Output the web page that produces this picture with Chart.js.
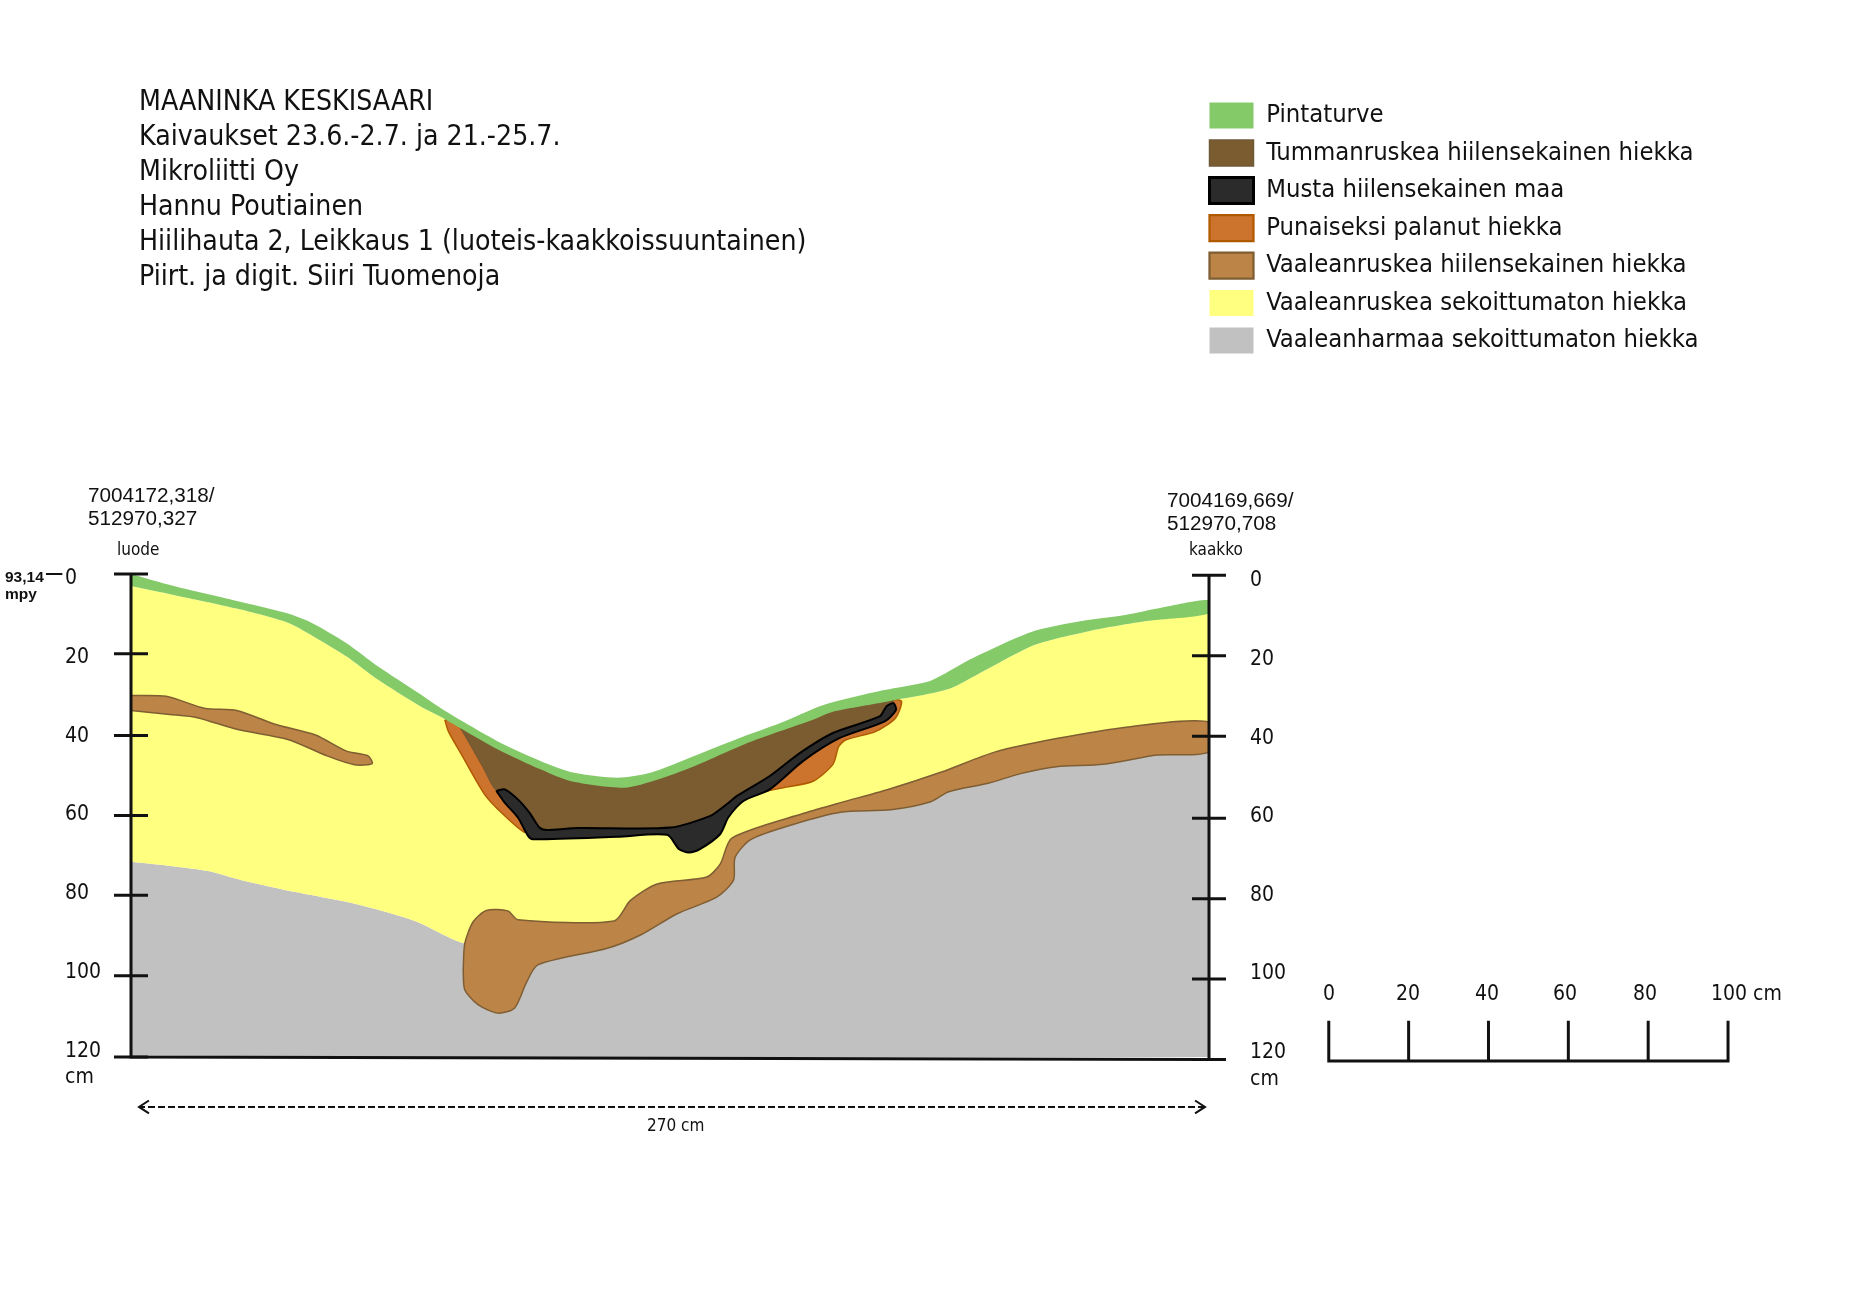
<!DOCTYPE html>
<html>
<head>
<meta charset="utf-8">
<title>Maaninka Keskisaari</title>
<script src="https://cdn.jsdelivr.net/npm/chart.js@4"></script>
<style>
html, body { margin: 0; background: #fff; }
#wrap { position: relative; width: 1856px; height: 1312px; overflow: hidden; }
canvas { position: absolute; left: 0; top: 0; }
.note { position: absolute; white-space: nowrap; line-height: 1; color: #111; transform: translateY(-50%); }
</style>
</head>
<body>
<div id="wrap"><canvas id="section" width="1856" height="1312"></canvas></div>
<script>
const titleLines = [
    'MAANINKA KESKISAARI',
    'Kaivaukset 23.6.-2.7. ja 21.-25.7.',
    'Mikroliitti Oy',
    'Hannu Poutiainen',
    'Hiilihauta 2, Leikkaus 1 (luoteis-kaakkoissuuntainen)',
    'Piirt. ja digit. Siiri Tuomenoja'
];
const depthTicks = [0, 20, 40, 60, 80, 100, 120];
const scaleBarTicks = [0, 20, 40, 60, 80];

// all outlines are [distance cm, depth cm]
const peatTop = [[0,-0.6],[10.7,2.4],[26.5,6.1],[39.3,9.2],[45.2,11.5],[54,16.6],[61.9,22.4],[72,29],[78.6,33.4],[91.9,41],[102.7,45.9],[111,48.8],[121.8,50],[130.1,48.8],[140.9,44.7],[153.4,39.8],[162.5,36.5],[173.3,32],[188.3,28.3],[200.3,25.9],[210.2,20.6],[225.5,13.8],[238.1,11.1],[249,9.6],[258,7.8],[270,5.9]];
const peatBottom = [[0,2.4],[10.7,4.6],[26.5,8],[39.3,11.5],[45.2,14.6],[54,19.9],[61.9,25.7],[72,32],[77.4,34.8],[91.9,43],[102.7,48],[110.2,50.9],[123.5,52.5],[131.8,50.5],[140.9,47.2],[153.4,41.8],[162.5,38.5],[170.8,35.6],[175.8,33.6],[189.9,31],[204.8,28],[213.8,23.4],[226.4,17],[239.9,13.6],[254.3,11.1],[270,9.2]];
const greyTop = [[0,70.9],[10.4,72],[19.3,73.2],[28.2,75.6],[41.5,78.5],[56.3,81.4],[71.1,85.6],[83.6,91.2],[90,90],[121,88],[147.6,74],[150,68],[155,64.6],[165.6,60.7],[177.7,57.5],[190,55.5],[204,51],[216.5,47],[231.8,44],[250,41],[270,40]];
const darkBrownArea = [[80.3,35.2],[91.9,41.8],[102.7,46.7],[110.2,50],[123.5,51.7],[131.8,49.6],[140.9,46.3],[153.4,41],[162.5,37.7],[170.8,34.8],[175.8,32.8],[190.5,30.3],[190.5,33.6],[186.6,36],[176.6,39.7],[167.5,44.7],[160,50.9],[151.7,55.8],[146.7,59.9],[136.8,62.4],[103.5,63.2],[100.2,59.1],[96.1,55],[91.5,53.3],[87.8,46.7],[82,36.9],[80.3,35.2]];
const blackArea = [[91.5,53.3],[93.6,52.9],[96.9,55.4],[99.8,58.7],[102.3,62.4],[104,63],[111.9,62.5],[135.1,62.4],[145.1,59.5],[149.2,56.6],[151.7,54.6],[160,49.6],[167.5,43.9],[175.8,38.9],[187.5,34.8],[189.2,32.3],[191,31.5],[191.6,33.2],[188.8,36],[177.4,40.2],[168.3,45.9],[160,52.9],[153.4,55.8],[149.6,59.9],[147.6,64],[142.6,67.7],[139.7,68.6],[137.2,67.7],[134.3,64.2],[121.8,64.7],[100.6,65.3],[99.4,64.4],[96.9,59.9],[93.6,56.2],[91.5,53.3]];
const orangeLeft = [[78.6,35.6],[79.5,38.5],[82.8,44.3],[88.6,54.2],[93.2,59.1],[98.6,63.6],[97.7,60.7],[91.5,52.5],[87.8,46.7],[82,36.9],[78.6,35.6]];
const orangeRight = [[157.5,53.7],[163.3,52.5],[170.8,50.9],[175.8,46.7],[177.3,42.2],[179.1,40.6],[186.6,38.5],[191.5,35.2],[193,31.1],[191,30.7],[189.6,34.4],[176.6,39.7],[167.5,44.7],[160,50.9],[157.5,53.7]];
const lightBrownBand = [[0,29.6],[8.8,29.8],[18.6,32.8],[26.5,33.3],[36.3,36.8],[46.2,39.4],[54,43.4],[59.4,44.6],[60.4,46.5],[56,46.8],[49.1,44.6],[39.3,40.5],[26.5,38],[16.6,35.1],[9.7,34.3],[0,33.3]];
const lightBrownPit = [[83.2,97.8],[83.6,91.2],[85.7,85.8],[89,83],[94.4,83.1],[96.9,85.3],[121,85.6],[125.1,80.5],[131.8,76.4],[144.2,74.7],[147.6,71.4],[150.5,65],[168.7,58.8],[177.7,56.2],[189.4,53],[203,48.6],[216.5,43.6],[231.8,40.3],[249.8,37.4],[270,36.2],[270,43.6],[257,44.4],[243.5,46.7],[231.8,47.3],[222.8,49],[214.7,51.4],[204.8,53.5],[200.3,56],[190.3,58],[177.7,58.6],[165.6,61.7],[155.2,65.4],[151.3,69.8],[150.9,75.5],[146.7,79.7],[136.8,83.8],[127.6,89.1],[119.3,92.4],[101.9,96.5],[99,101],[96.1,107.2],[91.9,108.5],[86.9,106.4],[83.6,102.7],[83.2,97.8]];

// paths below run from high x to low x: sorted data outside the x range would get trimmed
const frameLine = [[270,0],[270,120.6],[0,120],[0,0]];
const scaleBar = [[400,111],[400,121],[380,121],[380,111],[380,121],[360,121],[360,111],[360,121],[340,121],[340,111],[340,121],[320,121],[320,111],[320,121],[300,121],[300,111]];
const widthArrow = [[269,132.4],[2,132.4]];
const arrowHeadLeft = [[4.5,130.8],[2,132.4],[4.5,134]];
const arrowHeadRight = [[266.5,130.8],[269,132.4],[266.5,134]];
const datumMark = [[-17.2,0],[-21.3,0]];
const leftTicks = [0, 19.8, 40.1, 60, 79.8, 99.8, 120];
const rightTicks = [0.3, 20.3, 40.3, 60.7, 80.7, 100.6, 120.6];

const FONT_MAP = '"DejaVu Sans Condensed", "DejaVu Sans", sans-serif';

function polygon(label, points, fill, stroke, width, order) {
    return {
        label: label,
        data: points,
        order: order,
        yAxisID: 'yLayers',
        clip: false,
        fill: 'shape',
        backgroundColor: fill,
        borderColor: stroke,
        borderWidth: width,
        tension: 0.25,
        pointRadius: 0
    };
}

function inkLine(points, width, dash) {
    return {
        data: points,
        order: 0,
        fill: false,
        clip: false,
        borderColor: '#111',
        borderWidth: width,
        borderDash: dash || [],
        tension: 0,
        pointRadius: 0
    };
}

function tickMarks(x, values) {
    return {
        data: values.map(v => [x, v]),
        order: 0,
        clip: false,
        showLine: false,
        pointStyle: 'line',
        pointRadius: 17,
        pointBorderWidth: 3,
        pointBorderColor: '#111'
    };
}

const surface = peatTop.concat(peatBottom.slice().reverse());
const yellowArea = peatBottom.concat(greyTop.slice().reverse());
const greyArea = greyTop.concat([[270,120],[0,119.4]]);

const datasets = [
    polygon('Pintaturve', surface, '#85ca69', '#85ca69', 0, 1),
    polygon('Tummanruskea hiilensekainen hiekka', darkBrownArea, '#7a5c30', '#6f5a38', 1, 3),
    polygon('Musta hiilensekainen maa', blackArea, '#2b2b2b', '#000', 2, 2),
    polygon('Punaiseksi palanut hiekka', orangeLeft, '#cc742e', '#b05a00', 1.5, 4),
    polygon('Vaaleanruskea hiilensekainen hiekka', lightBrownBand, '#bc8447', '#7f5e33', 1.5, 5),
    polygon('Vaaleanruskea sekoittumaton hiekka', yellowArea, '#ffff80', '#ffff80', 0, 6),
    polygon('Vaaleanharmaa sekoittumaton hiekka', greyArea, '#c1c1c1', '#c1c1c1', 0, 7),
    polygon('', orangeRight, '#cc742e', '#b05a00', 1.5, 4),
    polygon('', lightBrownPit, '#bc8447', '#7f5e33', 1.5, 5),
    inkLine(frameLine, 3),
    inkLine(scaleBar, 3),
    inkLine(widthArrow, 2, [7, 3]),
    inkLine(arrowHeadLeft, 2),
    inkLine(arrowHeadRight, 2),
    inkLine(datumMark, 2),
    tickMarks(0, leftTicks),
    tickMarks(270, rightTicks)
];

// legend and title sit outside the plot, move them after the layout is done
const placeBoxes = {
    id: 'placeBoxes',
    afterLayout(chart) {
        const legend = chart.legend;
        legend.left = 1198;
        legend.top = 91;
        legend.right = legend.left + legend.width;
        legend.bottom = legend.top + legend.height;
        legend.adjustHitBoxes();
        chart.titleBlock.left = 139;
    }
};

function labelAxis(position, min, max, padding, width) {
    return {
        type: 'linear',
        position: position,
        reverse: true,
        min: min,
        max: max,
        grid: { drawOnChartArea: false, drawTicks: false },
        border: { display: false },
        afterBuildTicks: scale => {
            scale.ticks = depthTicks.map(v => ({ value: v }));
        },
        afterFit: scale => {
            scale.width = width;
        },
        ticks: {
            autoSkip: false,
            padding: padding,
            crossAlign: position === 'left' ? 'far' : 'near',
            color: '#111',
            font: { family: FONT_MAP, size: 21 },
            callback: v => String(v)
        }
    };
}

new Chart(document.getElementById('section'), {
    type: 'line',
    data: { datasets: datasets },
    plugins: [placeBoxes],
    options: {
        responsive: false,
        animation: false,
        events: [],
        layout: { padding: { left: 65, right: 567, top: 0, bottom: 255 } },
        plugins: {
            tooltip: { enabled: false },
            title: {
                display: true,
                text: titleLines,
                align: 'start',
                color: '#111',
                font: { family: FONT_MAP, size: 28.2, weight: 'normal', lineHeight: 1.241 },
                padding: { top: 85, bottom: 279 }
            },
            legend: {
                position: 'chartArea',
                align: 'start',
                labels: {
                    boxWidth: 44,
                    boxHeight: 26,
                    padding: 11.5,
                    color: '#111',
                    font: { family: FONT_MAP, size: 25.4 },
                    filter: item => item.text,
                    sort: (a, b) => a.datasetIndex - b.datasetIndex,
                    generateLabels: chart => Chart.defaults.plugins.legend.labels.generateLabels(chart)
                        .map(item => Object.assign(item, { lineWidth: item.lineWidth * 1.5 }))
                }
            }
        },
        scales: {
            x: { type: 'linear', min: 0, max: 270, display: false },
            y: { type: 'linear', min: 0, max: 120, reverse: true, display: false },
            // the soil layers sit a little lower on the sheet than the depth ticks say
            yLayers: { type: 'linear', min: -0.6, max: 119.4, reverse: true, display: false },
            yLeft: labelAxis('left', -1.2, 121.5, 0, 66),
            yRight: labelAxis('right', -1.8, 121.2, 41, 80)
        }
    }
});

// small annotations around the section
const notes = [
    ['7004172,318/', 88, 494.6, 'Liberation Sans', 20.7, 'normal'],
    ['512970,327', 88, 517.6, 'Liberation Sans', 20.7, 'normal'],
    ['luode', 117, 549, 'DejaVu Sans Condensed', 17, 'normal'],
    ['93,14', 5, 577, 'Liberation Sans', 15.5, 'bold'],
    ['mpy', 5, 594, 'Liberation Sans', 15.5, 'bold'],
    ['cm', 65, 1076, 'DejaVu Sans Condensed', 21, 'normal'],
    ['7004169,669/', 1167, 499.6, 'Liberation Sans', 20.7, 'normal'],
    ['512970,708', 1167, 522.6, 'Liberation Sans', 20.7, 'normal'],
    ['kaakko', 1189, 549, 'DejaVu Sans Condensed', 17, 'normal'],
    ['cm', 1250, 1078, 'DejaVu Sans Condensed', 21, 'normal'],
    ['270 cm', 647, 1125, 'DejaVu Sans Condensed', 17, 'normal'],
    [String(scaleBarTicks[0]), 1323, 993, 'DejaVu Sans Condensed', 21, 'normal'],
    [String(scaleBarTicks[1]), 1396, 993, 'DejaVu Sans Condensed', 21, 'normal'],
    [String(scaleBarTicks[2]), 1475, 993, 'DejaVu Sans Condensed', 21, 'normal'],
    [String(scaleBarTicks[3]), 1553, 993, 'DejaVu Sans Condensed', 21, 'normal'],
    [String(scaleBarTicks[4]), 1633, 993, 'DejaVu Sans Condensed', 21, 'normal'],
    ['100 cm', 1711, 993, 'DejaVu Sans Condensed', 21, 'normal']
];
const wrap = document.getElementById('wrap');
notes.forEach(n => {
    const el = document.createElement('div');
    el.className = 'note';
    el.textContent = n[0];
    el.style.left = n[1] + 'px';
    el.style.top = n[2] + 'px';
    el.style.fontFamily = '"' + n[3] + '", sans-serif';
    el.style.fontSize = n[4] + 'px';
    el.style.fontWeight = n[5];
    wrap.appendChild(el);
});
</script>
</body>
</html>
